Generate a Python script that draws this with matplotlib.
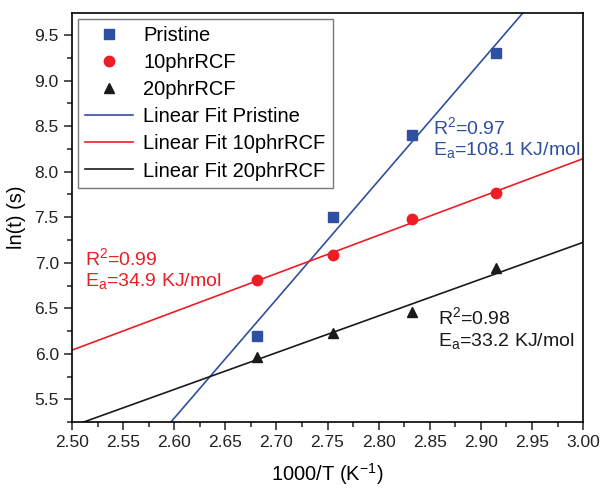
import numpy as np
import matplotlib.pyplot as plt
from matplotlib.ticker import MultipleLocator

plt.rcParams['font.family'] = ['Liberation Sans', 'DejaVu Sans']
plt.rcParams['mathtext.default'] = 'regular'

x = [2.681, 2.755, 2.833, 2.915]
pristine = [6.20, 7.50, 8.40, 9.30]
phr10 = [6.81, 7.08, 7.48, 7.77]
phr20 = [5.97, 6.23, 6.46, 6.94]

blue = '#2f4fa2'
red = '#ee1c25'
black = '#1a1a1a'

fig = plt.figure(figsize=(6.02, 4.88), dpi=100)
ax = fig.add_axes([0.1196, 0.135, 0.849, 0.838])

xs = np.linspace(2.5, 3.0, 200)
ax.plot(x, pristine, 's', color=blue, ms=6.5, label='Pristine', zorder=3)
ax.plot(x, phr10, 'o', color=red, ms=7.5, label='10phrRCF', zorder=3)
ax.plot(x, phr20, '^', color=black, ms=7.5, label='20phrRCF', zorder=3)
for ys, c, name in [(pristine, blue, 'Pristine'), (phr10, red, '10phrRCF'), (phr20, black, '20phrRCF')]:
    k, b = np.polyfit(x, ys, 1)
    ax.plot(xs, k * xs + b, '-', color=c, lw=1.2, label='Linear Fit ' + name)

ax.text(2.853, 8.61, 'R$^2$=0.97\nE$_a$=108.1 KJ/mol', color=blue, fontsize=14, linespacing=1.15, va='top')
ax.text(2.513, 7.17, 'R$^2$=0.99\nE$_a$=34.9 KJ/mol', color=red, fontsize=14, linespacing=1.15, va='top')
ax.text(2.858, 6.52, 'R$^2$=0.98\nE$_a$=33.2 KJ/mol', color=black, fontsize=14, linespacing=1.15, va='top')

ax.set_xlim(2.5, 3.0)
ax.set_ylim(5.25, 9.74)
ax.xaxis.set_major_locator(MultipleLocator(0.05))
ax.xaxis.set_minor_locator(MultipleLocator(0.025))
ax.yaxis.set_major_locator(MultipleLocator(0.5))
ax.yaxis.set_minor_locator(MultipleLocator(0.25))
ax.xaxis.set_major_formatter(plt.FormatStrFormatter('%.2f'))
ax.yaxis.set_major_formatter(plt.FormatStrFormatter('%.1f'))
ax.tick_params(which='both', direction='out', labelsize=12.5, width=1.1, colors='#222222')
ax.tick_params(which='major', length=6)
ax.tick_params(which='minor', length=3.5)
for s in ax.spines.values():
    s.set_linewidth(1.2)
ax.set_xlabel('1000/T (K$^{-1}$)', fontsize=14.5, labelpad=8)
ax.set_ylabel('ln(t) (s)', fontsize=14.5, labelpad=6)

leg = ax.legend(loc='upper left', fontsize=14.5, fancybox=False, edgecolor='#555555',
                borderaxespad=0.3, handlelength=2.4, labelspacing=0.4, borderpad=0.35,
                handletextpad=0.5)
leg.get_frame().set_linewidth(1.0)

fig.savefig('out.png', dpi=100)
